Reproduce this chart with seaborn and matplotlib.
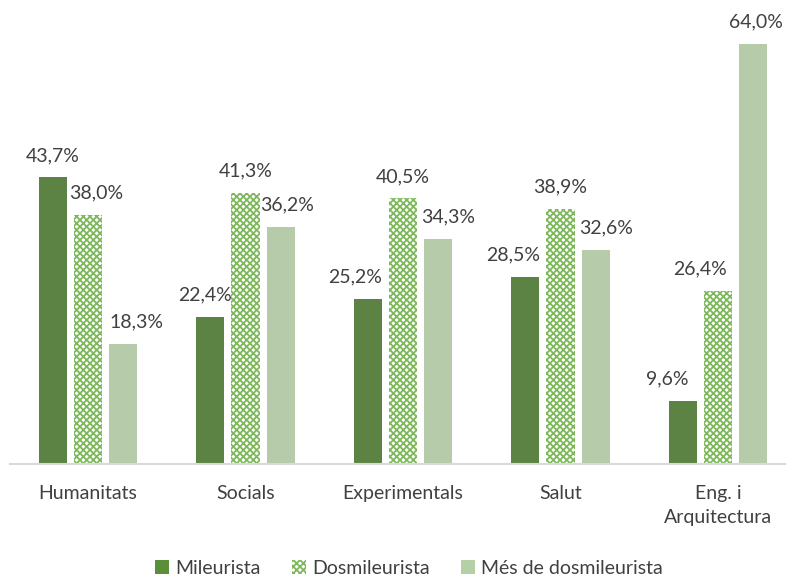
import numpy as np
import pandas as pd
import seaborn as sns
import matplotlib.pyplot as plt
from matplotlib.patches import Patch

categories = ['Humanitats', 'Socials', 'Experimentals', 'Salut', 'Eng. i\nArquitectura']
series = ['Mileurista', 'Dosmileurista', 'Més de dosmileurista']
mileurista = [43.7, 22.4, 25.2, 28.5, 9.6]
dosmileurista = [38.0, 41.3, 40.5, 38.9, 26.4]
mes_dosmileurista = [18.3, 36.2, 34.3, 32.6, 64.0]

DARK = '#5A8E38'
HATCH = '#7DB85A'
LIGHT = '#B4D0A4'
TEXT = '#404040'

# horizontal nudges (px) of the data labels, as placed in the original chart
label_shift = [[0, -5, -13, -12, -16],
               [8, 0, 0, 0, -18],
               [13, 7, 10, 11, 3]]

df = pd.DataFrame({
    'categoria': categories * 3,
    'serie': [s for s in series for _ in categories],
    'valor': mileurista + dosmileurista + mes_dosmileurista,
})

sns.set_style('white')
plt.rcParams['font.family'] = ['Lato', 'DejaVu Sans']
plt.rcParams['hatch.linewidth'] = 1.3

fig = plt.figure(figsize=(7.86, 5.79), dpi=100)
ax = fig.add_axes([0.0, 115 / 579, 1.0, 459 / 579])

sns.barplot(data=df, x='categoria', y='valor', hue='serie', order=categories,
            hue_order=series, palette=[DARK, 'white', LIGHT], width=0.667,
            gap=0.2, linewidth=0, legend=False, ax=ax)

for container, name, shifts in zip(ax.containers, series, label_shift):
    if name == 'Dosmileurista':
        for bar in container:
            bar.set_hatch('xxxxx')
            bar.set_edgecolor(HATCH)
            bar.set_linewidth(0)
    for bar, v, dx in zip(container, container.datavalues, shifts):
        ax.annotate(f'{v:.1f}%'.replace('.', ','),
                    (bar.get_x() + bar.get_width() / 2, bar.get_height()),
                    xytext=(dx * 0.72, 22 * 0.72), textcoords='offset points',
                    ha='center', va='center', fontsize=14, color=TEXT)

ax.set_xlim((0 - 88) / 157.5, (786 - 88) / 157.5)
ax.set_ylim(0, 70)
ax.set_xlabel('')
ax.set_ylabel('')
ax.set_yticks([])
ax.tick_params(axis='x', length=0, pad=15, labelsize=14, labelcolor=TEXT)
for lbl in ax.get_xticklabels():
    lbl.set_linespacing(1.5)
for side in ['top', 'right', 'left']:
    ax.spines[side].set_visible(False)
ax.spines['bottom'].set_color('#D9D9D9')
ax.spines['bottom'].set_linewidth(1.5)
ax.spines['bottom'].set_bounds((10 - 88) / 157.5, (786 - 88) / 157.5)

handles = [Patch(facecolor=DARK, linewidth=0),
           Patch(facecolor='white', edgecolor=HATCH, hatch='xxxxx', linewidth=0),
           Patch(facecolor=LIGHT, linewidth=0)]
fig.legend(handles, series, loc='center', bbox_to_anchor=(0.52, 11 / 579),
           ncol=3, frameon=False, fontsize=14, labelcolor=TEXT,
           handlelength=0.75, handleheight=0.75, handletextpad=0.3,
           columnspacing=1.6)

fig.savefig('out.png', dpi=100)
